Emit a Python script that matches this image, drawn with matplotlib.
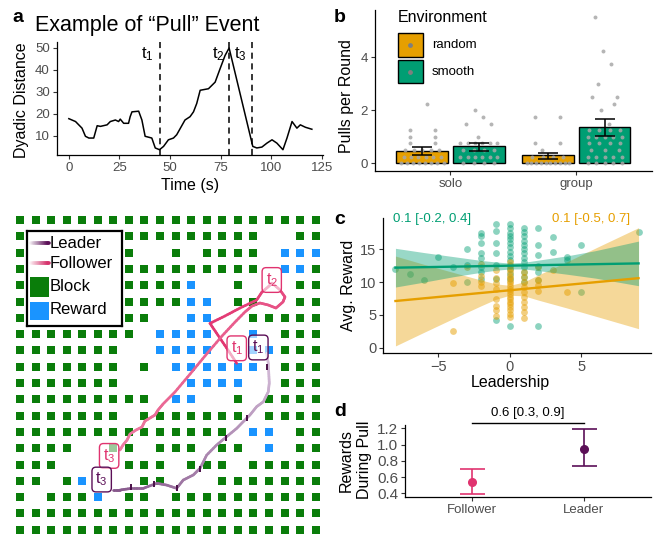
import numpy as np
import matplotlib
matplotlib.use("Agg")
import matplotlib.pyplot as plt
from matplotlib.collections import LineCollection
from matplotlib.colors import to_rgba
from matplotlib.patches import Rectangle
from matplotlib.ticker import FormatStrFormatter

plt.rcParams['font.family'] = ['Liberation Sans', 'DejaVu Sans']
plt.rcParams['mathtext.fontset'] = 'custom'
plt.rcParams['mathtext.rm'] = 'Liberation Sans'
plt.rcParams['mathtext.it'] = 'Liberation Sans:italic'

W, H = 657, 534

# ---------------- data ----------------
# a: dyadic distance between the two players over one round
time_s = [0, 3.3, 4.9, 6.5, 8.2, 9.9, 12.3, 14.0, 15.6, 18.9, 20.5, 23.0, 24.6, 25.4,
          27.1, 29.5, 30.3, 31.2, 34.5, 36.1, 37.7, 41.0, 42.7, 44.8, 46.8, 49.2, 51.7,
          53.3, 57.4, 59.9, 61.6, 63.2, 64.9, 69.0, 72.3, 74.7, 77.2, 79.2, 90.9, 92.9,
          95.4, 97.9, 100.4, 102.8, 105.8, 107.8, 110.3, 112.7, 114.4, 116.9, 120.1]
dyadic = [17.7, 16.4, 14.9, 13.4, 9.7, 8.9, 8.9, 14.5, 14.2, 14.9, 16.4, 17.1, 16.4, 17.5,
          15.6, 15.6, 18.6, 20.8, 21.1, 17.1, 9.7, 8.9, 4.4, 3.6, 5.1, 8.1, 8.9,
          10.4, 17.1, 18.6, 20.8, 24.6, 30.6, 31.3, 34.3, 40.3, 46.4, 49.8, 5.1, 4.4,
          4.8, 6.6, 8.1, 6.6, 3.6, 8.9, 16.4, 13.4, 14.9, 13.8, 12.9]
t_marks = [45, 79, 90.5]
t_names = [r'$\mathregular{t_1}$', r'$\mathregular{t_2}$', r'$\mathregular{t_3}$']

# b: pulls per round
conditions = ['solo', 'group']
env_names = ['random', 'smooth']
pull_mean = {'random': [0.46, 0.30], 'smooth': [0.65, 1.37]}
pull_lo = {'random': [0.31, 0.15], 'smooth': [0.47, 1.02]}
pull_hi = {'random': [0.61, 0.41], 'smooth': [0.78, 1.69]}
solo_random_pulls = [0, 0, 0, 0, 0, 0, 0, 0, 0.25, 0.25, 0.25, 0.25, 0.25, 0.25,
                     0.5, 0.5, 0.5, 0.5, 0.5, 0.75, 0.75, 1, 1, 1.25, 1.25, 2.25]
solo_smooth_pulls = [0, 0, 0, 0, 0.25, 0.25, 0.25, 0.25, 0.25, 0.25, 0.5, 0.5, 0.5, 0.5,
                     0.75, 0.75, 0.75, 0.75, 0.75, 0.75, 1, 1.5, 1.5, 1.75, 2]
group_random_pulls = [0, 0, 0, 0, 0, 0, 0, 0, 0, 0, 0.25, 0.25, 0.25, 0.25, 0.5,
                      0.75, 0.75, 1.75, 1.75]
group_smooth_pulls = [0, 0, 0, 0, 0, 0.25, 0.25, 0.25, 0.25, 0.25, 0.5, 0.5, 0.5,
                      0.75, 0.75, 0.75, 0.75, 1, 1, 1, 1, 1, 1.25, 1.25, 1.25, 1.25,
                      1.5, 2, 2.25, 2.5, 2.5, 3, 3.75, 4.25, 5.5]

# c: leadership vs average reward
smooth_lead = [-8, -7, -6, -5, -4, -3, -3, -3, -2, -2, -2, -2, -2, -2, -2, -2,
               -1, -1, -1, -1, -1, -1, -1, 0, 0, 0, 0, 0, 0, 0, 0, 0, 0, 0, 0, 0, 0, 0,
               1, 1, 1, 1, 1, 1, 1, 1, 1, 1, 1, 1, 1, 2, 2, 2, 2, 2, 2, 2,
               3, 3, 4, 4, 5, 5, 9]
smooth_reward = [12.0, 11.3, 10.3, 13.8, 12.3, 15.0, 12.6, 10.0, 17.5, 17.0, 15.9, 14.4,
                 13.6, 11.6, 10.5, 12.3, 18.9, 17.8, 15.9, 14.4, 12.6, 10.5, 4.2,
                 18.9, 18.3, 17.5, 17.0, 16.5, 15.9, 15.3, 14.6, 14.0, 13.4, 12.6, 12.0,
                 11.3, 10.5, 3.3, 18.2, 17.6, 17.0, 16.3, 15.6, 15.0, 14.4, 13.7, 13.0,
                 12.3, 11.6, 10.8, 10.0, 18.3, 15.6, 14.1, 12.5, 11.6, 10.3, 3.3,
                 16.8, 14.6, 13.8, 13.4, 15.6, 8.5, 17.6]
random_lead = [-4, -4, -3, -2, -2, -2, -2, -1, -1, -1, -1, -1, -1, -1, -1,
               0, 0, 0, 0, 0, 0, 0, 0, 0, 0, 0, 0, 0, 0, 0, 0, 0, 0, 0, 0,
               1, 1, 1, 1, 1, 1, 1, 1, 1, 1, 2, 2, 2, 2, 3, 4]
random_reward = [9.8, 2.5, 12.3, 11.0, 10.0, 9.4, 12.8, 11.8, 10.6, 9.8, 9.0, 7.5, 6.3,
                 5.8, 4.8, 13.0, 12.5, 12.0, 11.5, 11.0, 10.6, 10.2, 9.8, 9.4, 9.0, 8.6,
                 8.2, 7.8, 7.4, 7.0, 6.6, 6.2, 5.8, 5.2, 4.7, 11.5, 10.8, 10.0, 9.2,
                 8.5, 7.7, 7.0, 6.2, 5.5, 4.6, 12.3, 10.3, 9.5, 8.6, 11.8, 8.5]
band_x = [-8, -6, -4, -2, -1, 0, 1, 2, 4, 6, 9]
smooth_lo = [9.25, 10.0, 10.8, 11.5, 11.8, 12.0, 12.0, 11.75, 11.2, 10.6, 9.45]
smooth_hi = [15.15, 14.5, 13.9, 13.3, 13.07, 12.9, 13.02, 13.35, 14.0, 14.8, 16.25]
random_lo = [0.27, 2.35, 4.4, 6.4, 7.36, 8.0, 7.9, 7.25, 6.05, 4.8, 2.9]
random_hi = [13.97, 12.7, 11.5, 10.3, 9.74, 9.5, 10.04, 11.1, 13.1, 15.2, 18.3]
fit_x = [-8, 9]
smooth_fit = [12.2, 12.85]
random_fit = [7.12, 10.6]

# d: rewards collected during a pull
roles = ['Follower', 'Leader']
role_mean = [0.535, 0.949]
role_lo = [0.391, 0.736]
role_hi = [0.699, 1.191]

# e: example round on the grid (G = block, B = reward, . = empty)
grid_rows = [
    "GGGGGGGGGGGGGGGGGGGG",
    "GGGGGGGGGGGGGGGG..GG",
    "GGGGGGGG..G.GGGG.BBB",
    "GGGGGGGGGGGGGGGG.BBG",
    "GGGGGGGGGGGB..G...GG",
    "GGGGGGGGGGGBB.GG..GG",
    "GGGGGGGGG..BB..GGGGG",
    "GGGGGGGG.BBBB..B.GGG",
    "GGGGGGG..BBBB..BBGGG",
    "GGGGGGG.G.BBBBBB.GGG",
    "GGGGGGG....BBBB..GGG",
    "GGGGGGGGG.BB..G.GGGG",
    "GGGGGGG.GGGGGGG.GGGG",
    "GGGGGGGGGGGGGG.BB.GG",
    "GGGG..GG.GGG.GG.B.GG",
    "GGG....GGG.GGG.GGGGG",
    "GG.GB...GG...GGGGGGG",
    "G.GGGB.GG.GGGGGGGGGG",
    "GGGGGGGGGGGGGGGGGGGG",
    "GGGGGGGGGGGGGGGGGGGG",
]
follower_col = [13.93, 13.37, 12.72, 12.21, 13.17, 14.14, 15.21, 15.55, 15.94, 16.20,
                16.71, 17.03, 16.90, 16.45, 15.94, 15.42, 14.91, 14.46, 13.82, 12.98,
                11.89, 10.93, 9.96, 9.19, 8.87, 8.68, 8.35, 8.03, 7.84, 7.46, 7.07,
                6.88, 6.62, 6.43]
follower_row = [8.79, 7.98, 7.06, 6.34, 5.89, 5.40, 4.91, 4.42, 4.11, 3.87,
                4.29, 4.72, 5.03, 5.40, 5.21, 5.09, 5.28, 5.64, 6.26, 7.12,
                8.34, 9.45, 10.55, 11.29, 11.66, 11.96, 12.15, 12.33, 12.70, 12.88, 13.13,
                13.50, 13.80, 14.11]
leader_col = [15.85, 15.96, 15.99, 16.02, 15.96, 15.64, 15.21, 14.78, 14.35, 13.93,
              13.28, 12.64, 12.0, 11.57, 11.14, 10.49, 10.07, 9.43, 8.79, 7.92, 7.18,
              6.43, 6.0]
leader_row = [8.18, 8.79, 9.39, 10.0, 10.53, 11.15, 11.45, 11.96, 12.37, 12.78,
              13.29, 13.80, 14.42, 15.23, 15.64, 15.95, 16.46, 16.26, 16.15, 16.46, 16.46,
              16.56, 16.56]
leader_tick_col = [15.9, 14.57, 13.22, 11.57, 10.07, 8.61, 7.13]
leader_tick_row = [9.0, 12.17, 13.35, 15.28, 16.46, 16.18, 16.4]
# (label, col, row, who)
event_boxes = [(t_names[0], 13.93, 7.87, 'follower'), (t_names[0], 15.32, 7.82, 'leader'),
               (t_names[1], 16.18, 3.68, 'follower'), (t_names[2], 5.73, 14.47, 'follower'),
               (t_names[2], 5.25, 15.92, 'leader')]

# ---------------- style ----------------
c_random = '#E69F00'
c_smooth = '#009E73'
c_follower = '#E0336F'
c_leader = '#5B0F57'
c_block = '#0A7D0A'
c_reward = '#1A94FF'
tick_grey = '#4D4D4D'

fig = plt.figure(figsize=(W / 100, H / 100), dpi=100)


def add_panel(rect):
    l, t, r, b = rect
    return fig.add_axes([l / W, 1 - b / H, (r - l) / W, (b - t) / H])


def at(rect, px, py):
    l, t, r, b = rect
    return (px - l) / (r - l), (b - py) / (b - t)


def classic(ax, size):
    for s in ['top', 'right']:
        ax.spines[s].set_visible(False)
    for s in ['left', 'bottom']:
        ax.spines[s].set_linewidth(0.9)
    ax.tick_params(length=3, width=0.8, color='#333333', labelcolor=tick_grey,
                   labelsize=size, pad=2)


def label_axes(ax, rect, xlab, xpos, ylab, ypos, size=11.5):
    if xlab:
        ax.set_xlabel(xlab, fontsize=size, va='center')
        ax.xaxis.set_label_coords(*at(rect, *xpos))
    if ylab:
        ax.set_ylabel(ylab, fontsize=size, va='center', ha='center', linespacing=1.25)
        ax.yaxis.set_label_coords(*at(rect, *ypos))


def gradient_line(ax, xs, ys, c0, c1, lw, n_sub=6):
    xs = np.asarray(xs, float)
    ys = np.asarray(ys, float)
    # subdivide so the colour changes smoothly along the path
    s = np.linspace(0, len(xs) - 1, (len(xs) - 1) * n_sub + 1)
    px = np.interp(s, np.arange(len(xs)), xs)
    py = np.interp(s, np.arange(len(ys)), ys)
    pts = np.column_stack([px, py]).reshape(-1, 1, 2)
    segs = np.concatenate([pts[:-1], pts[1:]], axis=1)
    f = np.linspace(0, 1, len(segs))[:, None]
    cols = (1 - f) * np.array(to_rgba(c0)) + f * np.array(to_rgba(c1))
    lc = LineCollection(segs, colors=cols, linewidths=lw, capstyle='round',
                        joinstyle='round')
    ax.add_collection(lc)


# ---------------- a ----------------
rA = (56.7, 42.5, 323, 155)
axA = add_panel(rA)
axA.plot(time_s, dyadic, color='black', lw=1.1)
for t in t_marks:
    axA.axvline(t, color='black', lw=1.1, ls=(0, (4, 3)))
axA.text(38.7, 47.0, t_names[0], fontsize=12, ha='center', va='center')
axA.text(74.0, 47.0, t_names[1], fontsize=12, ha='center', va='center')
axA.text(84.5, 47.0, t_names[2], fontsize=12, ha='center', va='center')
axA.set_xlim(-6, 125.6)
axA.set_ylim(1.2, 52.3)
axA.set_xticks([0, 25, 50, 75, 100, 125])
axA.set_yticks([10, 20, 30, 40, 50])
classic(axA, 9.5)
label_axes(axA, rA, 'Time (s)', (190, 186), 'Dyadic Distance', (21.5, 100))
fig.text(35 / W, 1 - 25 / H, 'Example of “Pull” Event', fontsize=15.5,
         ha='left', va='center')

# ---------------- b ----------------
rB = (375, 10, 651.7, 170.7)
axB = add_panel(rB)
pos = np.arange(1, len(conditions) + 1)
offsets = {'random': -0.225, 'smooth': 0.225}
colors = {'random': c_random, 'smooth': c_smooth}
for env in env_names:
    axB.bar(pos + offsets[env], pull_mean[env], width=0.41, color=colors[env],
            edgecolor='black', linewidth=1.0, zorder=1)


def spread(values, center, half=0.17):
    vals = np.asarray(values, float)
    xs = np.empty(len(vals))
    for k, v in enumerate(np.unique(vals)):
        idx = np.where(vals == v)[0]
        n = len(idx)
        if n == 1:
            xs[idx] = center + ((k * 0.618) % 1 - 0.5) * half
        else:
            xs[idx] = center + np.linspace(-half, half, n) * (0.45 + 0.55 * min(n, 8) / 8)
    return xs


dot_groups = [(solo_random_pulls, 1 - 0.225), (solo_smooth_pulls, 1 + 0.225),
              (group_random_pulls, 2 - 0.225), (group_smooth_pulls, 2 + 0.225)]
for vals, cx in dot_groups:
    axB.scatter(spread(vals, cx), vals, s=8, color='#A8A8A8', alpha=0.85,
                linewidths=0, zorder=2)
for env in env_names:
    m = np.array(pull_mean[env])
    err = [m - np.array(pull_lo[env]), np.array(pull_hi[env]) - m]
    axB.errorbar(pos + offsets[env], m, yerr=err, fmt='none', ecolor='black',
                 elinewidth=1.1, capsize=7, capthick=1.1, zorder=3)
axB.set_xlim(0.4, 2.6)
axB.set_ylim(-0.275, 5.775)
axB.set_xticks(pos)
axB.set_xticklabels(conditions)
axB.set_yticks([0, 2, 4])
classic(axB, 9.5)
label_axes(axB, rB, None, None, 'Pulls per Round', (347, 96))

# legend for environment
axB.text(*at(rB, 398, 17), 'Environment', transform=axB.transAxes, fontsize=11.5,
         ha='left', va='center')
for env, (ytop, ybot) in zip(env_names, [(33.3, 56.7), (60, 83.3)]):
    x0, y0 = at(rB, 398, ybot)
    x1, y1 = at(rB, 422.7, ytop)
    axB.add_patch(Rectangle((x0, y0), x1 - x0, y1 - y0, transform=axB.transAxes,
                            facecolor=colors[env], edgecolor='black', lw=1.0,
                            clip_on=False))
    axB.scatter([(x0 + x1) / 2], [(y0 + y1) / 2], s=6, color='#7f7f7f',
                transform=axB.transAxes, clip_on=False, zorder=4)
    axB.text(*at(rB, 432, (ytop + ybot) / 2), env, transform=axB.transAxes,
             fontsize=9.5, ha='left', va='center')

# ---------------- c ----------------
rC = (383.3, 218, 650.7, 352.7)
axC = add_panel(rC)
axC.scatter(smooth_lead, smooth_reward, s=24, color=c_smooth, alpha=0.45,
            linewidths=0, zorder=1)
axC.scatter(random_lead, random_reward, s=24, color=c_random, alpha=0.5,
            linewidths=0, zorder=1)
axC.fill_between(band_x, random_lo, random_hi, color=c_random, alpha=0.4,
                 linewidth=0, zorder=2)
axC.fill_between(band_x, smooth_lo, smooth_hi, color=c_smooth, alpha=0.4,
                 linewidth=0, zorder=2)
axC.plot(fit_x, random_fit, color=c_random, lw=1.7, zorder=3)
axC.plot(fit_x, smooth_fit, color=c_smooth, lw=1.7, zorder=3)
axC.set_xlim(-8.85, 9.85)
axC.set_ylim(-0.76, 19.77)
axC.set_xticks([-5, 0, 5])
axC.set_yticks([0, 5, 10, 15])
classic(axC, 10.5)
label_axes(axC, rC, 'Leadership', (510, 383), 'Avg. Reward', (348, 285))
axC.text(*at(rC, 393, 219), '0.1 [-0.2, 0.4]', transform=axC.transAxes,
         color=c_smooth, fontsize=9.5, ha='left', va='center')
axC.text(*at(rC, 630, 219), '0.1 [-0.5, 0.7]', transform=axC.transAxes,
         color=c_random, fontsize=9.5, ha='right', va='center')

# ---------------- d ----------------
rD = (405, 425, 650.7, 497.3)
axD = add_panel(rD)
role_colors = [c_follower, c_leader]
for i, role in enumerate(roles):
    m = role_mean[i]
    axD.errorbar([i + 1], [m], yerr=[[m - role_lo[i]], [role_hi[i] - m]], fmt='o',
                 color=role_colors[i], ms=5.5, elinewidth=1.2, capsize=9,
                 capthick=1.2)
axD.plot([1, 2], [1.268, 1.268], color='black', lw=1.0, clip_on=False)
axD.text(1.5, 1.385, '0.6 [0.3, 0.9]', fontsize=9.5, ha='center', va='center')
axD.set_xlim(0.4, 2.6)
axD.set_ylim(0.351, 1.24)
axD.set_xticks([1, 2])
axD.set_xticklabels(roles)
axD.set_yticks([0.4, 0.6, 0.8, 1.0, 1.2])
axD.yaxis.set_major_formatter(FormatStrFormatter('%.1f'))
classic(axD, 9.5)
axD.tick_params(axis='y', labelsize=11)
label_axes(axD, rD, None, None, 'Rewards\nDuring Pull', (355, 460), size=11.5)

# ---------------- e: grid ----------------
rE = (12.2, 211.85, 323.4, 534)
axE = add_panel(rE)
axE.axis('off')
cells = np.array([list(s) for s in grid_rows])
rr, cc = np.nonzero(cells == 'G')
axE.scatter(cc, rr, marker='s', s=34, color=c_block, linewidths=0, zorder=1)
rr, cc = np.nonzero(cells == 'B')
axE.scatter(cc, rr, marker='s', s=34, color=c_reward, linewidths=0, zorder=1)
gradient_line(axE, follower_col, follower_row, '#E2336F', '#EE7FA5', 1.9)
gradient_line(axE, leader_col, leader_row, '#D7C0DB', '#86578B', 1.9)
axE.plot(leader_tick_col, leader_tick_row, ls='none', marker='|', ms=4, mew=1.4,
         color='#4A0F48', zorder=3)
for name, col, row, who in event_boxes:
    ec = c_follower if who == 'follower' else c_leader
    axE.text(col, row, name, fontsize=11.5, color=ec, ha='center', va='center', zorder=4,
             bbox=dict(boxstyle='round,pad=0.22,rounding_size=0.25',
                       fc=(1, 1, 1, 0.6), ec=ec, lw=1.0))
axE.set_xlim(-0.5, 19.5)
axE.set_ylim(19.26, -0.5)

# legend box over the grid
rL = (26.7, 230.7, 121.7, 326)
axL = add_panel(rL)
axL.set_xlim(0, 1)
axL.set_ylim(0, 1)
axL.set_xticks([])
axL.set_yticks([])
for s in axL.spines.values():
    s.set_linewidth(1.6)
gradient_line(axL, [0.035, 0.235], [0.868, 0.868], '#FFFFFF', c_leader, 2.6, n_sub=30)
gradient_line(axL, [0.035, 0.235], [0.658, 0.658], '#FFFFFF', '#D6336C', 2.6, n_sub=30)
axL.add_patch(Rectangle((0.035, 0.307), 0.203, 0.21, color=c_block, lw=0))
axL.add_patch(Rectangle((0.035, 0.063), 0.203, 0.192, color=c_reward, lw=0))
for txt, y in [('Leader', 0.868), ('Follower', 0.658), ('Block', 0.41), ('Reward', 0.168)]:
    axL.text(0.245, y, txt, fontsize=12, ha='left', va='center')

# ---------------- panel letters ----------------
for letter, px, py in [('a', 17.5, 17.5), ('b', 340, 17.5), ('c', 340, 219),
                       ('d', 340, 412)]:
    fig.text(px / W, 1 - py / H, letter, fontsize=14, fontweight='bold',
             ha='center', va='center')

fig.savefig('out.png', dpi=100)
